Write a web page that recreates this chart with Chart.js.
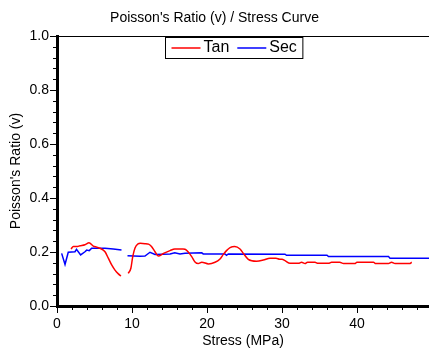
<!DOCTYPE html>
<html lang="en">
<head>
    <meta charset="UTF-8">
    <title>Poisson's Ratio / Stress Curve</title>
    <script src="https://cdn.jsdelivr.net/npm/chart.js"></script>
    <style>
        body { margin: 0; background: #fff; }
        #chart { display: block; }
    </style>
</head>
<body>
    <canvas id="chart" width="429" height="352"></canvas>

    <script>
        // Tan curve (red) - null marks the break in the record
        const tanStress = [1.87, 2.18, 2.62, 3.07, 3.73, 4.27, 4.84, 5.3, 5.73, 6.4, 6.84, 7.29, 7.73, 8.18, 8.53,
            8.9,
            9.5, 9.85, 10.1, 10.4, 10.8, 11.1, 11.73, 12.2, 12.6, 13.07, 13.5, 14.2, 15.07, 15.7, 16.8, 17.07,
            17.5, 17.96, 18.4, 18.84, 19.3, 20.2, 21.07, 21.7, 22.2, 22.6, 23.07, 23.7, 24.4, 24.84, 25.5, 26.6,
            27.5, 28.4, 29.2, 29.7, 30.0, 30.4, 31.07, 32.2, 32.6, 33.07, 33.4, 34.4, 34.8, 36.2, 36.6, 37.7,
            38.2, 39.7, 40.0, 42.2, 42.5, 44.2, 44.6, 45.07, 47.0, 47.3];
        const tanRatio = [0.211, 0.220, 0.220, 0.223, 0.227, 0.234, 0.222, 0.218, 0.214, 0.201, 0.177, 0.152, 0.133, 0.119, 0.111,
            null,
            0.121, 0.140, 0.183, 0.215, 0.230, 0.232, 0.231, 0.229, 0.220, 0.201, 0.185, 0.195, 0.205, 0.211, 0.211, 0.210,
            0.200, 0.183, 0.163, 0.157, 0.162, 0.156, 0.162, 0.173, 0.192, 0.205, 0.216, 0.220, 0.211, 0.195, 0.173, 0.166,
            0.170, 0.177, 0.177, 0.173, 0.173, 0.168, 0.158, 0.158, 0.162, 0.157, 0.162, 0.162, 0.158, 0.158, 0.162, 0.162,
            0.157, 0.157, 0.162, 0.162, 0.157, 0.157, 0.162, 0.157, 0.157, 0.162];

        // Sec curve (blue)
        const secStress = [0.62, 1.07, 1.5, 2.4, 2.6, 3.15, 3.73, 3.96, 4.3, 4.62, 5.07, 5.73, 6.4, 7.5, 8.6,
            8.9,
            9.4, 11.07, 11.73, 12.4, 13.07, 15.07, 15.7, 16.4, 17.07, 19.3, 19.5, 22.4, 22.6, 22.84,
            30.4, 30.6, 36.0, 36.2, 44.2, 44.4, 49.6];
        const secRatio = [0.195, 0.154, 0.199, 0.201, 0.210, 0.189, 0.201, 0.207, 0.205, 0.214, 0.214, 0.214, 0.214, 0.211, 0.207,
            null,
            0.186, 0.184, 0.185, 0.199, 0.191, 0.193, 0.197, 0.193, 0.195, 0.197, 0.193, 0.193, 0.188, 0.193,
            0.192, 0.188, 0.188, 0.183, 0.183, 0.177, 0.177];

        const xTicks = [0, 10, 20, 30, 40];
        const yTicks = [0, 0.2, 0.4, 0.6, 0.8, 1.0];

        const FONT = "'Liberation Sans', Arial, sans-serif";

        function toPoints(xs, ys) {
            return xs.map((x, i) => ({ x: x, y: ys[i] }));
        }

        // 축 눈금(큰/작은)과 위쪽 테두리, 범례 박스
        const decorPlugin = {
            id: 'decor',
            afterDraw(chart) {
                const { ctx, chartArea, scales } = chart;
                ctx.save();
                ctx.strokeStyle = '#000';
                ctx.lineWidth = 1;

                // top border
                ctx.beginPath();
                ctx.moveTo(chartArea.left, chartArea.top + 0.5);
                ctx.lineTo(chartArea.right, chartArea.top + 0.5);
                ctx.stroke();

                // y ticks every 0.04, major every 0.2
                for (let i = 0; i <= 25; i++) {
                    const v = i * 0.04;
                    const py = Math.round(scales.y.getPixelForValue(v)) + 0.5;
                    const len = (i % 5 === 0) ? 7 : 4;
                    ctx.beginPath();
                    ctx.moveTo(chartArea.left - len, py);
                    ctx.lineTo(chartArea.left, py);
                    ctx.stroke();
                }
                // x ticks every 2, major every 10
                for (let v = 0; v <= scales.x.max; v += 2) {
                    const px = Math.round(scales.x.getPixelForValue(v)) + 0.5;
                    const len = (v % 10 === 0) ? 7 : 4;
                    ctx.beginPath();
                    ctx.moveTo(px, chartArea.bottom);
                    ctx.lineTo(px, chartArea.bottom + len);
                    ctx.stroke();
                }

                // legend box
                ctx.font = '16px ' + FONT;
                ctx.textBaseline = 'middle';
                const items = chart.data.datasets;
                const sample = 29, gap = 3, spacing = 8, pad = 6;
                let total = pad * 2;
                items.forEach((ds, i) => {
                    total += sample + gap + ctx.measureText(ds.label).width + (i < items.length - 1 ? spacing : 0);
                });
                const boxH = 21;
                const boxX = Math.round((chartArea.left + chartArea.right) / 2 - total / 2 - 9) + 0.5;
                const boxY = chartArea.top + 1.5;
                ctx.fillStyle = '#fff';
                ctx.fillRect(boxX, boxY, total, boxH);
                ctx.strokeRect(boxX, boxY, total, boxH);
                let cx = boxX + pad;
                const cy = boxY + boxH / 2;
                items.forEach(ds => {
                    ctx.strokeStyle = ds.borderColor;
                    ctx.lineWidth = 1.5;
                    ctx.beginPath();
                    ctx.moveTo(cx, cy);
                    ctx.lineTo(cx + sample, cy);
                    ctx.stroke();
                    cx += sample + gap;
                    ctx.fillStyle = '#000';
                    ctx.fillText(ds.label, cx, cy);
                    cx += ctx.measureText(ds.label).width + spacing;
                });
                ctx.restore();
            }
        };

        const ctx = document.getElementById('chart').getContext('2d');
        new Chart(ctx, {
            type: 'line',
            data: {
                datasets: [
                    {
                        label: 'Tan',
                        data: toPoints(tanStress, tanRatio),
                        borderColor: '#ff0000',
                        borderWidth: 1.5,
                        pointRadius: 0,
                        tension: 0.3,
                        cubicInterpolationMode: 'monotone',
                        spanGaps: false,
                    },
                    {
                        label: 'Sec',
                        data: toPoints(secStress, secRatio),
                        borderColor: '#0000ff',
                        borderWidth: 1.5,
                        pointRadius: 0,
                        tension: 0,
                        spanGaps: false,
                    },
                ],
            },
            options: {
                responsive: false,
                animation: false,
                layout: { padding: 0 },
                plugins: {
                    legend: { display: false },
                    tooltip: { enabled: false },
                    title: {
                        display: true,
                        text: "Poisson's Ratio (v) / Stress Curve",
                        color: '#000',
                        font: { family: FONT, size: 14, weight: 'normal' },
                        padding: { top: 10, bottom: 9.2 },
                    },
                },
                scales: {
                    x: {
                        type: 'linear',
                        min: 0,
                        max: 49.6,
                        afterBuildTicks: s => { s.ticks = xTicks.map(v => ({ value: v })); },
                        afterFit: s => { s.height = 46; },
                        grid: { display: true, drawOnChartArea: false, tickLength: 6, tickColor: 'rgba(0,0,0,0)' },
                        border: { display: true, color: '#000', width: 3 },
                        ticks: {
                            color: '#000',
                            padding: 4,
                            maxRotation: 0,
                            font: { family: FONT, size: 14 },
                            callback: v => String(v),
                        },
                        title: {
                            display: true,
                            text: 'Stress (MPa)',
                            color: '#000',
                            font: { family: FONT, size: 14 },
                            padding: { top: 0, bottom: 2 },
                        },
                    },
                    y: {
                        min: 0,
                        max: 1,
                        afterBuildTicks: s => { s.ticks = yTicks.map(v => ({ value: v })); },
                        afterFit: s => { s.width = 57; },
                        grid: { display: true, drawOnChartArea: false, tickLength: 6, tickColor: 'rgba(0,0,0,0)' },
                        border: { display: true, color: '#000', width: 3 },
                        ticks: {
                            color: '#000',
                            padding: 2,
                            font: { family: FONT, size: 14 },
                            callback: v => Number(v).toFixed(1),
                        },
                        title: {
                            display: true,
                            text: "Poisson's Ratio (v)",
                            color: '#000',
                            font: { family: FONT, size: 14 },
                            padding: { top: 8, bottom: 0 },
                        },
                    },
                },
            },
            plugins: [decorPlugin],
        });
    </script>
</body>
</html>
